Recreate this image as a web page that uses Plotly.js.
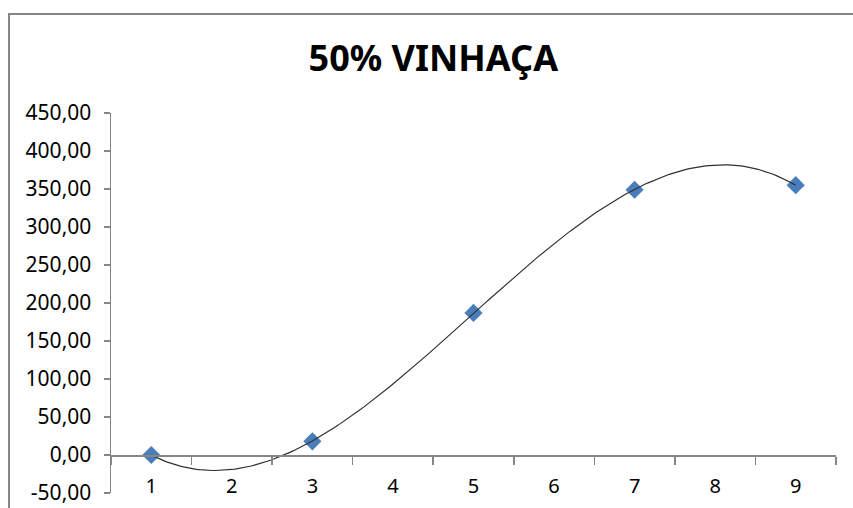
<!DOCTYPE html>
<html>
<head>
<meta charset="utf-8">
<script src="https://cdn.plot.ly/plotly-3.0.1.min.js"></script>
<style>
html,body{margin:0;padding:0;background:#fff;overflow:hidden;}
#frame{position:absolute;left:8px;top:13px;width:900px;height:600px;border-top:2px solid #868686;border-left:2px solid #868686;}
#chart{position:absolute;left:0;top:0;width:853px;height:508px;}
</style>
</head>
<body>
<div id="frame"></div>
<div id="chart"></div>
<script>
// Data
const xValues = [1, 3, 5, 7, 9];
const yValues = [0, 18, 187, 349, 355];
const categoryLabels = ['1','2','3','4','5','6','7','8','9'];
const yTickValues = [-50, 0, 50, 100, 150, 200, 250, 300, 350, 400, 450];
const titleText = '50% VINHAÇA';

// Polynomial (order 3) trendline, least squares fit of the data, as in the spreadsheet
function polyFit(xs, ys, order) {
  const n = order + 1;
  const A = [];
  for (let i = 0; i < n; i++) A.push(new Array(n + 1).fill(0));
  for (let k = 0; k < xs.length; k++) {
    for (let i = 0; i < n; i++) {
      for (let j = 0; j < n; j++) A[i][j] += Math.pow(xs[k], i + j);
      A[i][n] += ys[k] * Math.pow(xs[k], i);
    }
  }
  for (let i = 0; i < n; i++) {
    let p = i;
    for (let r = i + 1; r < n; r++) if (Math.abs(A[r][i]) > Math.abs(A[p][i])) p = r;
    const tmp = A[i]; A[i] = A[p]; A[p] = tmp;
    for (let r = 0; r < n; r++) {
      if (r === i) continue;
      const f = A[r][i] / A[i][i];
      for (let c = i; c <= n; c++) A[r][c] -= f * A[i][c];
    }
  }
  return A.map((row, i) => row[n] / row[i]);
}
const coef = polyFit(xValues, yValues, 3);
const trendX = [], trendY = [];
const x0 = xValues[0], x1 = xValues[xValues.length - 1];
for (let i = 0; i <= 200; i++) {
  const x = x0 + (x1 - x0) * i / 200;
  trendX.push(x);
  trendY.push(coef.reduce((s, c, k) => s + c * Math.pow(x, k), 0));
}

const font = 'Noto Sans, Open Sans, sans-serif';
const data = [
  {
    x: xValues, y: yValues, type: 'scatter', mode: 'markers',
    marker: {symbol: 'diamond', size: 14, color: '#4A7EBB', line: {width: 0}},
    hoverinfo: 'x+y'
  },
  {
    x: trendX, y: trendY, type: 'scatter', mode: 'lines',
    line: {color: '#303030', width: 1.2},
    hoverinfo: 'skip'
  }
];

const layout = {
  width: 853, height: 508,
  margin: {l: 111, r: 17, t: 113, b: 15},
  paper_bgcolor: 'rgba(0,0,0,0)',
  plot_bgcolor: 'rgba(0,0,0,0)',
  showlegend: false,
  font: {family: font, size: 20, color: '#000'},
  title: {
    text: '<b>' + titleText + '</b>',
    font: {family: font, size: 36, color: '#000'},
    x: 0.508, xref: 'container', xanchor: 'center',
    y: 0.885, yref: 'container', yanchor: 'middle'
  },
  xaxis: {
    range: [0.5, 9.5],
    tickmode: 'array',
    tickvals: categoryLabels.map(Number),
    ticktext: categoryLabels,
    ticks: '',
    minor: {ticks: 'outside', ticklen: 8, tickwidth: 1.5, tickcolor: '#868686', tick0: 0.5, dtick: 1, showgrid: false},
    showline: true, linecolor: '#868686', linewidth: 1.5,
    showgrid: false, zeroline: false,
    anchor: 'free', position: 0.1,
    ticklabelstandoff: 12,
    tickfont: {family: font, size: 20, color: '#000'},
    fixedrange: true
  },
  yaxis: {
    range: [-50, 450],
    tickmode: 'array',
    tickvals: yTickValues,
    ticktext: yTickValues.map(v => v.toFixed(2).replace('.', ',')),
    ticks: 'outside', ticklen: 6, tickwidth: 1.5, tickcolor: '#868686',
    showline: true, linecolor: '#868686', linewidth: 1.5,
    showgrid: false, zeroline: false,
    ticklabelstandoff: 8,
    tickfont: {family: font, size: 21, color: '#000'},
    fixedrange: true
  }
};

Plotly.newPlot('chart', data, layout, {displayModeBar: false, staticPlot: true});
</script>
</body>
</html>
